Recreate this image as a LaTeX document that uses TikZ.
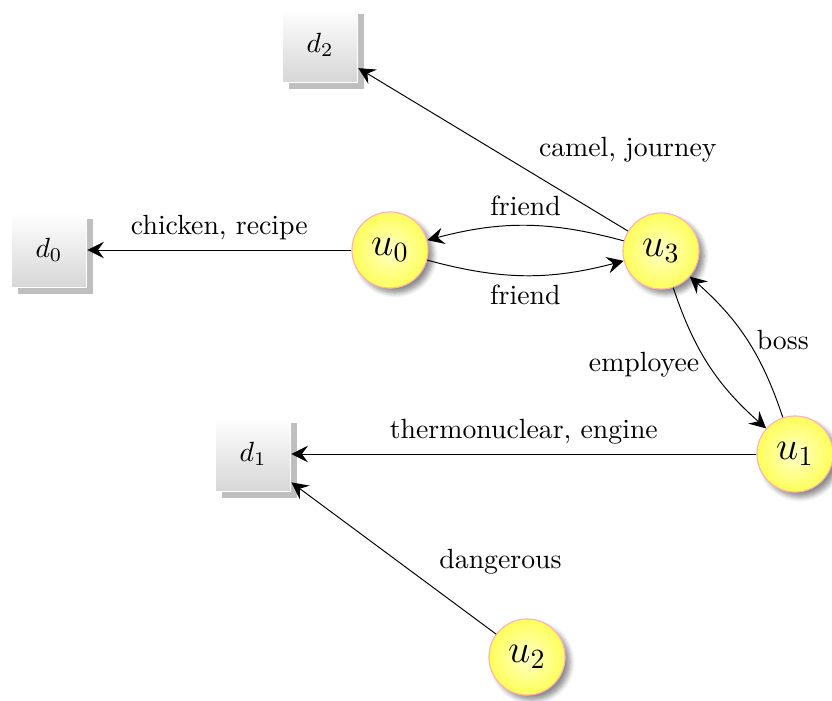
\documentclass[tikz,border=0pt]{standalone}
\usetikzlibrary{arrows.meta,shadows,shadows.blur}
\begin{document}
\begin{tikzpicture}[x=0.36pt,y=0.36pt,
  user/.style={circle, minimum size=27.4pt, inner sep=0pt, draw=red!30, line width=0.4pt,
    inner color=yellow!22, outer color=yellow!65,
    blur shadow={shadow xshift=1.8pt, shadow yshift=-1.8pt, shadow blur steps=6, shadow opacity=45},
    font=\Large},
  doc/.style={rectangle, minimum size=27pt, inner sep=0pt, draw=white, line width=0.6pt,
    top color=white, bottom color=black!16,
    drop shadow={shadow xshift=2.5pt, shadow yshift=-2.5pt, fill=black!25, opacity=1}},
  link/.style={-{Stealth[length=6pt,width=6pt,inset=2.2pt]}, line width=0.35pt}
]
\useasboundingbox (0,0) rectangle (832,-700);

% documents
\node[doc] (d2) at (320,-45) {$d_2$};
\node[doc] (d0) at (49,-250) {$d_0$};
\node[doc] (d1) at (253,-454) {$d_1$};

% users
\node[user] (u0) at (390,-250) {$u_0$};
\node[user] (u3) at (661,-251) {$u_3$};
\node[user] (u1) at (795,-454) {$u_1$};
\node[user] (u2) at (527,-657) {$u_2$};

% user-to-document links
\draw[link] (u3) -- node[pos=0.5, right=13pt] {camel, journey} (d2);
\draw[link] (u0) -- node[midway, above] {chicken, recipe} (d0);
\draw[link] (u1) -- node[midway, above] {thermonuclear, engine} (d1);
\draw[link] (u2) -- node[pos=0.48, right=11.5pt] {dangerous} (d1);

% user-to-user relations
\draw[link] (u3) to[bend right=15] node[midway, above] {friend} (u0);
\draw[link] (u0) to[bend right=15] node[midway, below] {friend} (u3);
\draw[link] (u3) to[bend right=15] node[midway, left] {employee} (u1);
\draw[link] (u1) to[bend right=15] node[midway, right] {boss} (u3);
\end{tikzpicture}
\end{document}
